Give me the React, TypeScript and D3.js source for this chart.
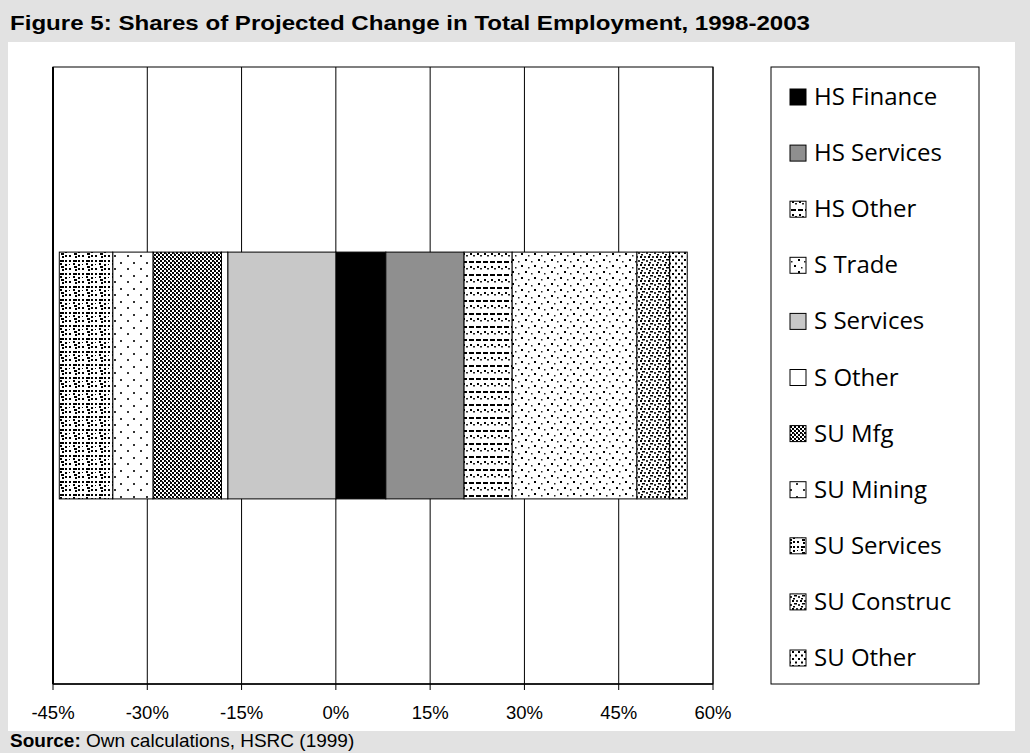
import React from "react";
import * as d3 from "d3";

const seriesNames = ["HS Finance", "HS Services", "HS Other", "S Trade", "S Services", "S Other", "SU Mfg", "SU Mining", "SU Services", "SU Construc", "SU Other"];
const seriesValues = [7.95, 12.45, 7.65, 19.85, -17.2, -1.0, -10.9, -6.4, -8.5, 5.2, 2.8];
const tickValues = [-45, -30, -15, 0, 15, 30, 45, 60];
const categories = ["Total"];
const fills = ["#000000", "#8f8f8f", "url(#pHSOther)", "url(#pSTrade)", "#c8c8c8", "#ffffff", "url(#pSUMfg)", "url(#pSUMining)", "url(#pSUServices)", "url(#pSUConstruc)", "url(#pSUOther)"];

const W = 1030, H = 753;
const plot = { left: 53, right: 713, top: 67, bottom: 684 };
const legendBox = { x: 771, y: 67, w: 208, h: 617 };

function Patterns() {
  return (
    <defs>
      <pattern id="pHSOther" width="7" height="13" patternUnits="userSpaceOnUse">
        <rect width="7" height="13" fill="#fff" />
        <rect x="0" y="1" width="5" height="2" fill="#000" />
        <rect x="1" y="6" width="2" height="2" fill="#000" />
        <rect x="4" y="8" width="2" height="1.5" fill="#222" />
      </pattern>
      <pattern id="pSTrade" width="13" height="12" patternUnits="userSpaceOnUse">
        <rect width="13" height="12" fill="#fff" />
        <rect x="1" y="1" width="2" height="2" fill="#000" />
        <rect x="8" y="3" width="1.5" height="1.5" fill="#222" />
        <rect x="5" y="7" width="2" height="2" fill="#000" />
        <rect x="11" y="9" width="1.5" height="1.5" fill="#222" />
      </pattern>
      <pattern id="pSUMfg" width="8" height="8" patternUnits="userSpaceOnUse">
        <rect width="8" height="8" fill="#fff" />
        <rect x="0" y="0" width="2" height="2" fill="#000" />
        <rect x="4" y="0" width="2" height="2" fill="#000" />
        <rect x="2" y="2" width="2" height="2" fill="#000" />
        <rect x="6" y="2" width="2" height="2" fill="#000" />
        <rect x="0" y="4" width="2" height="2" fill="#000" />
        <rect x="4" y="4" width="2" height="2" fill="#000" />
        <rect x="2" y="6" width="2" height="2" fill="#000" />
        <rect x="6" y="6" width="2" height="2" fill="#000" />
        <rect x="1" y="1" width="2" height="1" fill="#333" />
        <rect x="5" y="5" width="2" height="1" fill="#333" />
      </pattern>
      <pattern id="pSUMining" width="13" height="13" patternUnits="userSpaceOnUse">
        <rect width="13" height="13" fill="#fff" />
        <rect x="3" y="2" width="2" height="2" fill="#333" />
        <rect x="10" y="8" width="2" height="2" fill="#333" />
      </pattern>
      <pattern id="pSUServices" width="13" height="13" patternUnits="userSpaceOnUse">
        <rect width="13" height="13" fill="#fff" />
        <rect x="0" y="0" width="2" height="2" fill="#000" />
        <rect x="4" y="0" width="2" height="2" fill="#000" />
        <rect x="8" y="0" width="4" height="2" fill="#000" />
        <rect x="0" y="4" width="2" height="2" fill="#000" />
        <rect x="8" y="3" width="2" height="2" fill="#000" />
        <rect x="0" y="8" width="2" height="2" fill="#000" />
        <rect x="4" y="8" width="2" height="2" fill="#000" />
        <rect x="9" y="6" width="3" height="2" fill="#000" />
        <rect x="10" y="9" width="2" height="2" fill="#000" />
        <rect x="4" y="4" width="1" height="1" fill="#000" />
      </pattern>
      <pattern id="pSUConstruc" width="8" height="8" patternUnits="userSpaceOnUse">
        <rect width="8" height="8" fill="#fff" />
        <rect x="0" y="0" width="2" height="2" fill="#000" />
        <rect x="4" y="0" width="2" height="2" fill="#333" />
        <rect x="2" y="3" width="3" height="1.5" fill="#000" />
        <rect x="6" y="4" width="2" height="2" fill="#333" />
        <rect x="1" y="6" width="2" height="1.5" fill="#000" />
      </pattern>
      <pattern id="pSUOther" width="6" height="7" patternUnits="userSpaceOnUse">
        <rect width="6" height="7" fill="#fff" />
        <rect x="0" y="0" width="2" height="2" fill="#000" />
        <rect x="3" y="3.5" width="2" height="2" fill="#000" />
      </pattern>
    </defs>
  );
}

export default function App() {
  const x = d3.scaleLinear().domain([-45, 60]).range([plot.left, plot.right]);
  const y = d3.scaleBand().domain(categories).range([plot.top, plot.bottom]).paddingInner(0.6).paddingOuter(0.3);

  const row: Record<string, number | string> = { cat: categories[0] };
  seriesNames.forEach((n, i) => { row[n] = seriesValues[i]; });
  const stacked = d3.stack<any>().keys(seriesNames).offset(d3.stackOffsetDiverging)([row]);

  const legendY = d3.scalePoint().domain(seriesNames).range([97, 658]);

  return (
    <svg width={W} height={H} style={{ position: "absolute", left: 0, top: 0 }} xmlns="http://www.w3.org/2000/svg">
      <Patterns />
      <rect x={0} y={0} width={W} height={H} fill="#e2e2e2" />
      <text x={10} y={30} fontFamily="'Liberation Sans', Arial, sans-serif" fontWeight="bold" fontSize={21} fill="#000" textLength={800} lengthAdjust="spacingAndGlyphs">
        Figure 5: Shares of Projected Change in Total Employment, 1998-2003
      </text>
      <rect x={8} y={42} width={1007} height={689} fill="#ffffff" />

      {/* gridlines */}
      {tickValues.map((t) => (
        <line key={"g" + t} x1={x(t)} x2={x(t)} y1={plot.top} y2={plot.bottom} stroke="#000" strokeWidth={1} />
      ))}
      <rect x={plot.left} y={plot.top} width={plot.right - plot.left} height={plot.bottom - plot.top} fill="none" stroke="#000" strokeWidth={1} />

      {/* bars */}
      {stacked.map((s, i) => (
        <g key={s.key}>
          {s.map((d, j) => {
            const x0 = x(Math.min(d[0], d[1]));
            const x1 = x(Math.max(d[0], d[1]));
            return (
              <rect key={j} x={x0} y={y(categories[j])} width={x1 - x0} height={y.bandwidth()} fill={fills[i]} stroke="#000" strokeWidth={1} />
            );
          })}
        </g>
      ))}

      {/* axes */}
      <line x1={plot.left} x2={plot.left} y1={plot.top} y2={plot.bottom} stroke="#000" strokeWidth={2} />
      <line x1={plot.left} x2={plot.right} y1={plot.bottom} y2={plot.bottom} stroke="#000" strokeWidth={1.5} />
      {tickValues.map((t) => (
        <g key={"t" + t}>
          <line x1={x(t)} x2={x(t)} y1={plot.bottom} y2={plot.bottom + 6} stroke="#000" />
          <text x={x(t)} y={719} textAnchor="middle" fontFamily="'Liberation Sans', Arial, sans-serif" fontSize={18.5} fill="#000">
            {t + "%"}
          </text>
        </g>
      ))}

      {/* legend */}
      <rect x={legendBox.x} y={legendBox.y} width={legendBox.w} height={legendBox.h} fill="#fff" stroke="#000" strokeWidth={1} />
      {seriesNames.map((n, i) => {
        const cy = legendY(n) as number;
        return (
          <g key={"l" + n}>
            <rect x={790} y={cy - 8} width={16} height={16} fill={fills[i]} stroke="#000" strokeWidth={1} />
            <text x={814} y={cy + 8} fontFamily="'Open Sans', sans-serif" fontSize={24} fill="#000">
              {n}
            </text>
          </g>
        );
      })}

      <text x={10} y={747} fontFamily="'Liberation Sans', Arial, sans-serif" fontSize={19} fill="#000">
        <tspan fontWeight="bold">Source:</tspan>
        <tspan> Own calculations, HSRC (1999)</tspan>
      </text>
    </svg>
  );
}
